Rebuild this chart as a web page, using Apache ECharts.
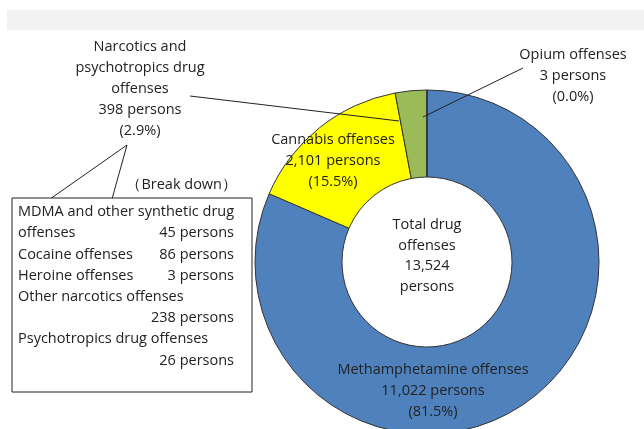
<!DOCTYPE html>
<html>
<head>
<meta charset="utf-8">
<script src="https://cdn.jsdelivr.net/npm/echarts@6/dist/echarts.min.js"></script>
<style>
  html, body { margin: 0; padding: 0; background: #fff; }
  #chart { width: 644px; height: 429px; }
</style>
</head>
<body>
<div id="chart"></div>
<script>
// slices, clockwise from 12 o'clock
var categories = [
  "Methamphetamine offenses",
  "Cannabis offenses",
  "Narcotics and\npsychotropics drug\noffenses",
  "Opium offenses"
];
var persons = [11022, 2101, 398, 3];

// breakdown of narcotics and psychotropics
var breakdownNames = [
  "MDMA and other synthetic drug\noffenses",
  "Cocaine offenses",
  "Heroine offenses",
  "Other narcotics offenses",
  "Psychotropics drug offenses"
];
var breakdownPersons = [45, 86, 3, 238, 26];
var valueOnOwnLine = [false, false, false, true, true];

var colors = ["#4f81bd", "#ffff00", "#9bbb59", "#8064a2"];
var labelPos = [[433, 391], [333, 161], [140, 89], [573, 76]];
var FONT = "Open Sans";
var FS = 14.5;
var TEXT = "#222";
var font = FS + "px '" + FONT + "'";

var total = persons.reduce(function (a, b) { return a + b; }, 0);
function fmt(n) { return n.toLocaleString("en-US"); }

var pieData = categories.map(function (name, i) {
  return { name: name, value: persons[i], itemStyle: { color: colors[i] } };
});

// breakdown box texts
var boxGraphics = [
  { type: "rect", shape: { x: 12, y: 198, width: 240, height: 194 },
    style: { fill: "#fff", stroke: "#222", lineWidth: 1 } }
];
var lineY = 212, lineH = 21.2;
breakdownNames.forEach(function (name, i) {
  var parts = name.split("\n");
  parts.forEach(function (p) {
    boxGraphics.push({ type: "text", x: 18, y: lineY,
      style: { text: p, font: font, fill: TEXT, verticalAlign: "middle" } });
    lineY += lineH;
  });
  if (!valueOnOwnLine[i]) lineY -= lineH;
  boxGraphics.push({ type: "text", x: 234, y: lineY,
    style: { text: breakdownPersons[i] + " persons", font: font, fill: TEXT,
      align: "right", verticalAlign: "middle" } });
  lineY += lineH;
});

var chart = echarts.init(document.getElementById("chart"));
chart.setOption({
  animation: false,
  backgroundColor: "#fff",
  textStyle: { fontFamily: FONT },
  graphic: [
    { type: "rect", shape: { x: 7, y: 10, width: 637, height: 20 }, style: { fill: "#f2f2f2" }, z: -1 },
    { type: "text", x: 427, y: 256,
      style: { text: "Total drug\noffenses\n" + fmt(total) + "\npersons", font: font,
        fill: TEXT, align: "center", verticalAlign: "middle", lineHeight: 20.5 } },
    { type: "text", x: 237, y: 185,
      style: { text: "（Break down）", font: font, fill: TEXT, align: "right", verticalAlign: "middle" } },
    { type: "polyline", shape: { points: [[50, 199], [127, 145], [112, 199]] },
      style: { stroke: "#222", lineWidth: 1, fill: null } },
    { type: "line", shape: { x1: 190, y1: 96, x2: 399, y2: 121 }, style: { stroke: "#222", lineWidth: 1 }, z: 10 },
    { type: "line", shape: { x1: 423, y1: 117, x2: 523, y2: 68 }, style: { stroke: "#222", lineWidth: 1 }, z: 10 }
  ].concat(boxGraphics),
  series: [{
    type: "pie",
    center: [427, 262],
    radius: [85, 172],
    startAngle: 90,
    clockwise: true,
    avoidLabelOverlap: false,
    itemStyle: { borderColor: "#333", borderWidth: 1 },
    label: {
      show: true,
      position: "inside",
      color: TEXT,
      fontFamily: FONT,
      fontSize: FS,
      lineHeight: 21,
      formatter: function (p) {
        return p.name + "\n" + fmt(p.value) + " persons\n(" + (p.value / total * 100).toFixed(1) + "%)";
      }
    },
    labelLine: { show: false },
    labelLayout: function (p) {
      var pos = labelPos[p.dataIndex];
      return { x: pos[0], y: pos[1], align: "center", verticalAlign: "middle" };
    },
    emphasis: { disabled: true },
    data: pieData
  }]
});
</script>
</body>
</html>
